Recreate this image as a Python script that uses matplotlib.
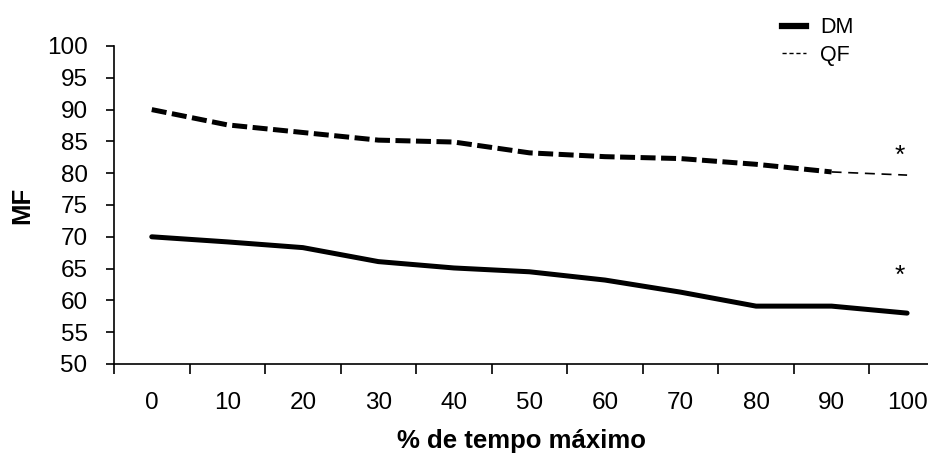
import numpy as np
import matplotlib.pyplot as plt

plt.rcParams['font.family'] = ['Liberation Sans', 'DejaVu Sans']

categories = ['0', '10', '20', '30', '40', '50', '60', '70', '80', '90', '100']
dm = [70.0, 69.2, 68.3, 66.1, 65.1, 64.5, 63.2, 61.3, 59.1, 59.1, 58.0]
qf = [90.0, 87.6, 86.4, 85.2, 84.9, 83.2, 82.6, 82.3, 81.4, 80.2, 79.7]

x = np.arange(len(categories))

fig = plt.figure(figsize=(9.29, 4.57), dpi=100)
ax = fig.add_axes([114/929, 93/457, 815/929, 318/457])

ax.plot(x, dm, color='black', lw=3.6, solid_capstyle='round', label='DM')
ax.plot(x[:10], qf[:10], color='black', lw=3.6, ls=(0, (3.0, 1.1)), label='QF')
ax.plot(x[9:], qf[9:], color='black', lw=1.2, ls=(0, (6, 4)))

ax.text(9.9, 80.9, '*', fontsize=19, ha='center', va='bottom')
ax.text(9.9, 61.9, '*', fontsize=19, ha='center', va='bottom')

ax.set_xlim(-0.5, 10.29)
ax.set_ylim(50, 100)
ax.set_yticks(np.arange(50, 101, 5))
ax.set_xticks(x)
ax.set_xticklabels(categories)
ax.set_xticks(np.arange(-0.5, 10, 1), minor=True)
ax.tick_params(axis='x', which='major', length=0, pad=20, labelsize=17.5)
ax.tick_params(axis='x', which='minor', length=7, width=1.2, direction='out')
ax.tick_params(axis='y', length=6, width=1.2, direction='out', labelsize=17.5, pad=13)

for s in ['top', 'right']:
    ax.spines[s].set_visible(False)
for s in ['left', 'bottom']:
    ax.spines[s].set_linewidth(1.2)

ax.set_ylabel('MF', fontsize=18.5, fontweight='bold', labelpad=9)
ax.set_xlabel('% de tempo máximo', fontsize=18.5, fontweight='bold', labelpad=11)

h1, = ax.plot([], [], color='black', lw=4.5)
h2, = ax.plot([], [], color='black', lw=1.0, ls=(0, (3, 2)))
fig.legend([h1, h2], ['DM', 'QF'], loc='upper left', bbox_to_anchor=(765/929, 1.0),
           frameon=False, fontsize=15.5, handlelength=1.1, handletextpad=0.65,
           labelspacing=0.3, borderpad=0.3)

fig.savefig('out.png', dpi=100)
